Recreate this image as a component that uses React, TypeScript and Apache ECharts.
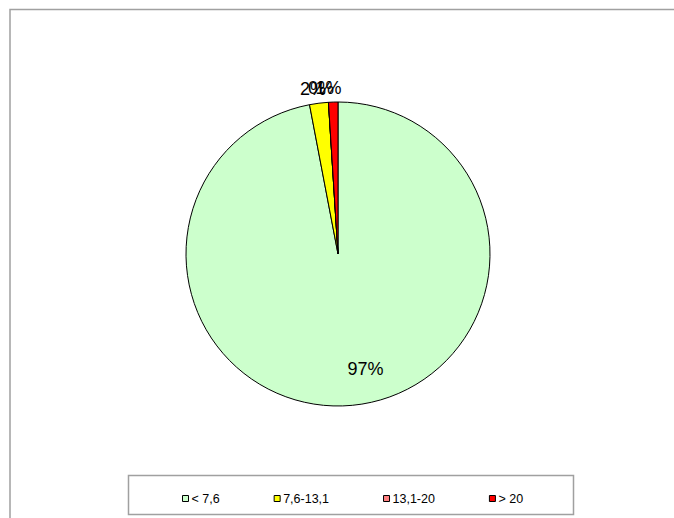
import React, { useEffect, useRef } from "react";
import * as echarts from "echarts";

const categories = ["< 7,6", "7,6-13,1", "13,1-20", "> 20"];
const values = [97, 2, 0, 1];
const colors = ["#CCFFCC", "#FFFF00", "#FF8080", "#FF0000"];
const labelOffsets: [number, number][] = [[20, 36], [-15, -87], [-12, -87], [-7, -87]];

export default function App() {
  const ref = useRef<HTMLDivElement>(null);
  useEffect(() => {
    if (!ref.current) return;
    const chart = echarts.init(ref.current, null, { renderer: "svg" });
    const font = "'Liberation Sans', Arial, sans-serif";
    chart.setOption({
      animation: false,
      backgroundColor: "#ffffff",
      graphic: [
        {
          type: "polyline",
          shape: { points: [[10, 518], [10, 9.5], [674, 9.5]] },
          style: { stroke: "#a0a0a0", lineWidth: 1.5, fill: "none" },
          silent: true,
        },
        {
          type: "rect",
          shape: { x: 128.5, y: 475.5, width: 445, height: 39 },
          style: { stroke: "#a0a0a0", lineWidth: 1.5, fill: "none" },
          silent: true,
        },
      ],
      legend: {
        data: categories,
        left: 177,
        top: 487,
        itemWidth: 6,
        itemHeight: 6,
        itemGap: 54,
        icon: "rect",
        textStyle: { fontFamily: font, fontSize: 12.5, color: "#000", padding: [0, 0, 0, -2] },
        itemStyle: { borderColor: "#000", borderWidth: 1 },
        selectedMode: false,
      },
      series: [
        {
          type: "pie",
          center: [338, 254],
          radius: 152,
          startAngle: 90,
          clockwise: true,
          avoidLabelOverlap: false,
          percentPrecision: 0,
          itemStyle: { borderColor: "#000", borderWidth: 1 },
          label: {
            position: "inside",
            formatter: "{d}%",
            fontFamily: font,
            fontSize: 18,
            color: "#000",
          },
          labelLine: { show: false },
          labelLayout: { hideOverlap: false },
          emphasis: { disabled: true },
          data: categories.map((name, i) => ({
            name,
            value: values[i],
            itemStyle: { color: colors[i] },
            label: { offset: labelOffsets[i] },
          })),
        },
      ],
    });
    return () => chart.dispose();
  }, []);
  return (
    <div
      ref={ref}
      style={{ position: "absolute", left: 0, top: 0, width: 674, height: 518 }}
    />
  );
}
